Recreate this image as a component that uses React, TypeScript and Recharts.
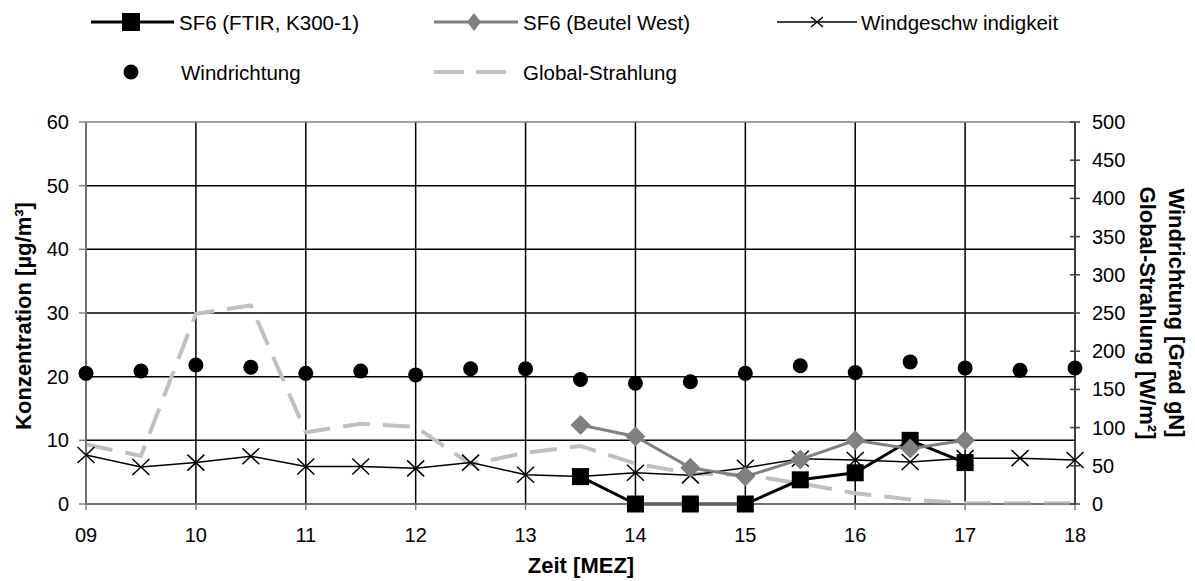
import React from "react";
import { ComposedChart, Line, XAxis, YAxis, CartesianGrid, ReferenceLine } from "recharts";

// half-hour steps, 09:00 .. 18:00
const hours = [9, 9.5, 10, 10.5, 11, 11.5, 12, 12.5, 13, 13.5, 14, 14.5, 15, 15.5, 16, 16.5, 17, 17.5, 18];
const sf6Ftir = [null, null, null, null, null, null, null, null, null, 4.3, 0, 0, 0, 3.8, 4.9, 10.0, 6.5, null, null];
const sf6Beutel = [null, null, null, null, null, null, null, null, null, 12.4, 10.6, 5.7, 4.3, 7.0, 10.0, 8.7, 10.0, null, null];
const windSpeed = [7.7, 5.8, 6.5, 7.5, 5.9, 5.9, 5.6, 6.5, 4.6, 4.3, 4.9, 4.5, 5.7, 7.1, 6.9, 6.6, 7.2, 7.2, 6.9];
const windDir = [171, 174, 182, 179, 171, 174, 169, 177, 177, 163, 158, 160, 171, 181, 172, 186, 178, 175, 178];
const radiation = [78, 63, 249, 260, 94, 105, 101, 52, 67, 76, 53, 40, 38, 27, 14, 6, 1, 1, 1];

const xTicks = [9, 10, 11, 12, 13, 14, 15, 16, 17, 18];
const leftTicks = [0, 10, 20, 30, 40, 50, 60];
const rightTicks = [0, 50, 100, 150, 200, 250, 300, 350, 400, 450, 500];

const data = hours.map((t, i) => ({
  t,
  ftir: sf6Ftir[i],
  beutel: sf6Beutel[i],
  speed: windSpeed[i],
  dir: windDir[i],
  rad: radiation[i],
}));

const FONT = "'Liberation Sans', Arial, sans-serif";
const tickFont = { fill: "#000", fontSize: 20, fontFamily: FONT };

const ok = (p: any) => p && p.cx != null && p.cy != null && !isNaN(p.cx) && !isNaN(p.cy) && p.value != null;

const SquareDot = (p: any) =>
  ok(p) ? <rect key={p.index} x={p.cx - 8.5} y={p.cy - 8.5} width={17} height={17} fill="#000" /> : <g key={p.index} />;

const DiamondDot = (p: any) =>
  ok(p) ? (
    <path
      key={p.index}
      d={`M${p.cx},${p.cy - 10} L${p.cx + 10},${p.cy} L${p.cx},${p.cy + 10} L${p.cx - 10},${p.cy} Z`}
      fill="#808080"
    />
  ) : (
    <g key={p.index} />
  );

const CrossDot = (p: any) =>
  ok(p) ? (
    <path
      key={p.index}
      d={`M${p.cx - 8.5},${p.cy - 8} L${p.cx + 8.5},${p.cy + 8} M${p.cx - 8.5},${p.cy + 8} L${p.cx + 8.5},${p.cy - 8}`}
      stroke="#000"
      strokeWidth={1.5}
      fill="none"
    />
  ) : (
    <g key={p.index} />
  );

const RoundDot = (p: any) =>
  ok(p) ? <circle key={p.index} cx={p.cx} cy={p.cy} r={7.5} fill="#000" /> : <g key={p.index} />;

const XTick = (p: any) => (
  <text x={p.x} y={p.y} dy="0.71em" textAnchor="middle" {...tickFont}>
    {String(p.payload.value).padStart(2, "0")}
  </text>
);

const LeftTick = (p: any) => (
  <text x={p.x} y={p.y} dominantBaseline="central" textAnchor="end" {...tickFont}>
    {p.payload.value}
  </text>
);

// right axis: ticks cross the axis line, label to the right
const RightTick = (p: any) => {
  const ax = p.x - 17;
  return (
    <g>
      <line x1={ax - 5} x2={ax + 5} y1={p.y} y2={p.y} stroke="#404040" strokeWidth={1.5} />
      <text x={p.x} y={p.y} dominantBaseline="central" textAnchor="start" {...tickFont}>
        {p.payload.value}
      </text>
    </g>
  );
};

function LegendRow() {
  const txt = { fontSize: 20.5, fontFamily: FONT, fill: "#000" };
  return (
    <svg width={1195} height={100} style={{ position: "absolute", left: 0, top: 0 }}>
      <line x1={91} x2={174} y1={22} y2={22} stroke="#000" strokeWidth={3} />
      <rect x={122} y={13} width={18} height={18} fill="#000" />
      <text x={179} y={22} dominantBaseline="central" {...txt}>SF6 (FTIR, K300-1)</text>

      <line x1={434} x2={518} y1={22} y2={22} stroke="#808080" strokeWidth={3} />
      <path d="M474,13 L481,22 L474,31 L467,22 Z" fill="#808080" />
      <text x={523} y={22} dominantBaseline="central" {...txt}>SF6 (Beutel West)</text>

      <line x1={777} x2={857} y1={22} y2={22} stroke="#000" strokeWidth={1.5} />
      <path d="M811,17 L823,27 M811,27 L823,17" stroke="#000" strokeWidth={1.5} />
      <text x={861} y={22} dominantBaseline="central" {...txt}>Windgeschw indigkeit</text>

      <circle cx={131} cy={72} r={7.5} fill="#000" />
      <text x={181} y={72} dominantBaseline="central" {...txt}>Windrichtung</text>

      <line x1={434} x2={507} y1={72} y2={72} stroke="#c0c0c0" strokeWidth={4} strokeDasharray="30 12" />
      <text x={523} y={72} dominantBaseline="central" {...txt}>Global-Strahlung</text>
    </svg>
  );
}

export default function App() {
  const bold = { fontSize: 22, fontFamily: FONT, fontWeight: 700, fill: "#000" };
  return (
    <div style={{ position: "relative", width: 1195, height: 581, background: "#fff" }}>
      <style>{"body{margin:0}"}</style>
      <ComposedChart width={1195} height={581} data={data} margin={{ top: 122, right: 0, bottom: 0, left: 0 }}>
        <CartesianGrid
          yAxisId="left"
          stroke="#000"
          strokeWidth={1.5}
          horizontalValues={[0, 10, 20, 30, 40, 50]}
        />
        <ReferenceLine yAxisId="left" y={60} stroke="#808080" strokeWidth={1.5} />
        <XAxis
          dataKey="t"
          type="number"
          domain={[9, 18]}
          ticks={xTicks}
          height={77}
          tick={<XTick />}
          tickSize={6}
          tickMargin={18}
          stroke="#808080"
          strokeWidth={1.5}
        />
        <YAxis
          yAxisId="left"
          domain={[0, 60]}
          ticks={leftTicks}
          width={86}
          tick={<LeftTick />}
          tickSize={7}
          tickMargin={10}
          stroke="#808080"
          strokeWidth={1.5}
        />
        <YAxis
          yAxisId="right"
          orientation="right"
          domain={[0, 500]}
          ticks={rightTicks}
          width={120}
          tick={<RightTick />}
          tickLine={false}
          tickSize={5}
          tickMargin={12}
          stroke="#404040"
          strokeWidth={1.5}
        />
        <Line
          yAxisId="right"
          dataKey="rad"
          stroke="#c0c0c0"
          strokeWidth={4}
          strokeDasharray="27 13"
          dot={false}
          activeDot={false}
          type="linear"
          isAnimationActive={false}
        />
        <Line
          yAxisId="right"
          dataKey="dir"
          stroke="none"
          dot={RoundDot}
          activeDot={false}
          type="linear"
          isAnimationActive={false}
        />
        <Line
          yAxisId="left"
          dataKey="speed"
          stroke="#000"
          strokeWidth={1.5}
          dot={CrossDot}
          activeDot={false}
          type="linear"
          isAnimationActive={false}
        />
        <Line
          yAxisId="left"
          dataKey="ftir"
          stroke="#000"
          strokeWidth={3}
          dot={SquareDot}
          activeDot={false}
          type="linear"
          isAnimationActive={false}
        />
        <Line
          yAxisId="left"
          dataKey="beutel"
          stroke="#808080"
          strokeWidth={3}
          dot={DiamondDot}
          activeDot={false}
          type="linear"
          isAnimationActive={false}
        />
        <text x={23} y={316} transform="rotate(-90 23 316)" textAnchor="middle" dominantBaseline="central" {...bold}>
          Konzentration [µg/m³]
        </text>
        <text x={1147} y={313} transform="rotate(90 1147 313)" textAnchor="middle" dominantBaseline="central" {...bold}>
          Global-Strahlung [W/m²]
        </text>
        <text x={1176} y={313} transform="rotate(90 1176 313)" textAnchor="middle" dominantBaseline="central" {...bold}>
          Windrichtung [Grad gN]
        </text>
        <text x={581} y={565} textAnchor="middle" dominantBaseline="central" {...bold}>
          Zeit [MEZ]
        </text>
      </ComposedChart>
      <LegendRow />
    </div>
  );
}
